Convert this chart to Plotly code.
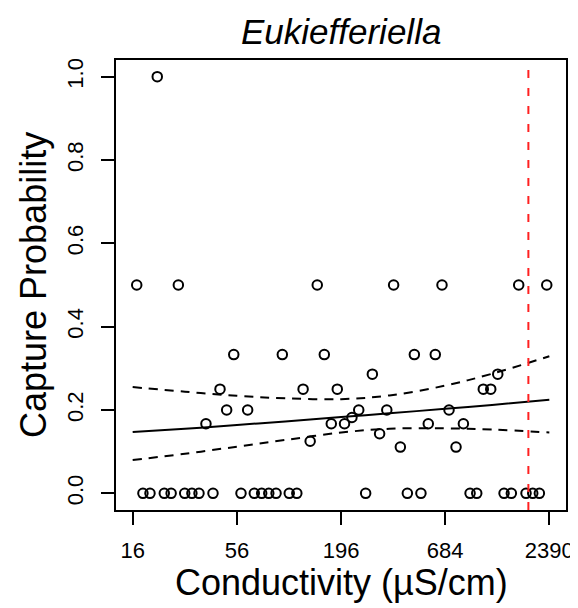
import math
import plotly.graph_objects as go

# ---- data ----
conductivity = [16.8, 18.1, 19.7, 21.5, 23.4, 25.4, 27.7, 29.9, 32.6, 35.5,
                38.6, 42.0, 45.7, 49.5, 53.9, 58.8, 63.7, 69.0, 75.4, 82.1,
                89.6, 96.6, 105, 115, 124, 135, 147, 160, 174, 187,
                204, 223, 242, 263, 285, 311, 339, 368, 399, 434,
                472, 511, 558, 607, 658, 716, 779, 851, 922, 999,
                1081, 1182, 1286, 1387, 1514, 1654, 1806, 1958, 2120, 2317]
capture_prob = [0.5, 0, 0, 1.0, 0, 0, 0.5, 0, 0, 0,
                0.167, 0, 0.25, 0.2, 0.333, 0, 0.2, 0, 0, 0,
                0, 0.333, 0, 0, 0.25, 0.125, 0.5, 0.333, 0.167, 0.25,
                0.167, 0.182, 0.2, 0, 0.286, 0.143, 0.2, 0.5, 0.111, 0,
                0.333, 0, 0.167, 0.333, 0.5, 0.2, 0.111, 0.167, 0, 0,
                0.25, 0.25, 0.286, 0, 0, 0.5, 0, 0, 0, 0.5]

curve_x = [16, 30, 56, 100, 196, 350, 684, 1200, 2390]
fit_prob = [0.147, 0.155, 0.164, 0.1725, 0.183, 0.192, 0.203, 0.212, 0.2245]
upper_ci = [0.255, 0.244, 0.234, 0.228, 0.226, 0.235, 0.2585, 0.287, 0.329]
lower_ci = [0.080, 0.095, 0.112, 0.128, 0.146, 0.155, 0.156, 0.153, 0.146]

threshold = 1858
x_ticks = [16, 56, 196, 684, 2390]
x_tick_labels = ["16", "56", "196", "684", "2390"]
y_ticks = [0.0, 0.2, 0.4, 0.6, 0.8, 1.0]
y_tick_labels = ["0.0", "0.2", "0.4", "0.6", "0.8", "1.0"]

FONT = "Liberation Sans, Arial, Helvetica, sans-serif"

lo, hi = math.log10(min(curve_x)), math.log10(max(curve_x))
span = hi - lo
x_range = [lo - 0.04 * span, hi + 0.04 * span]
y_range = [-0.04, 1.04]

fig = go.Figure()
fig.add_trace(go.Scatter(
    x=conductivity, y=capture_prob, mode="markers",
    marker=dict(symbol="circle-open", size=9.5, color="black",
                line=dict(width=2, color="black")),
    hoverinfo="x+y", showlegend=False))
fig.add_trace(go.Scatter(x=curve_x, y=fit_prob, mode="lines",
                         line=dict(color="black", width=2, shape="spline"),
                         showlegend=False))
for band in (upper_ci, lower_ci):
    fig.add_trace(go.Scatter(x=curve_x, y=band, mode="lines",
                             line=dict(color="black", width=2, dash="9px,7px",
                                       shape="spline"),
                             showlegend=False))
fig.add_trace(go.Scatter(x=[threshold, threshold], y=y_range, mode="lines",
                         line=dict(color="#ff2020", width=2, dash="8px,10px"),
                         showlegend=False))

# page body adds an 8px offset, so margins are shifted to compensate
fig.update_layout(
    width=578, height=608,
    margin=dict(l=108, r=20, t=52, b=106),
    paper_bgcolor="white", plot_bgcolor="white",
    font=dict(family=FONT, color="black"),
    showlegend=False,
    xaxis=dict(type="log", range=x_range, tickmode="array",
               tickvals=x_ticks, ticktext=x_tick_labels,
               ticks="outside", ticklen=13, tickwidth=1.6, tickcolor="black",
               showline=True, mirror=True, linewidth=1.6, linecolor="black",
               showgrid=False, zeroline=False, automargin=False,
               tickfont=dict(size=22, family=FONT),
               ticklabelstandoff=7),
    yaxis=dict(range=y_range, tickmode="array",
               tickvals=y_ticks, ticktext=y_tick_labels, tickangle=-90,
               ticks="outside", ticklen=13, tickwidth=1.6, tickcolor="black",
               showline=True, mirror=True, linewidth=1.6, linecolor="black",
               showgrid=False, zeroline=False, automargin=False,
               tickfont=dict(size=22, family=FONT),
               ticklabelstandoff=9),
    annotations=[
        dict(text="<i>Eukiefferiella</i>", xref="paper", yref="paper",
             x=0.5, y=1, yshift=29, xanchor="center", yanchor="middle",
             showarrow=False, font=dict(size=35, family=FONT)),
        dict(text="Conductivity (µS/cm)", xref="paper", yref="paper",
             x=0.5, y=0, yshift=-72, xanchor="center", yanchor="middle",
             showarrow=False, font=dict(size=36, family=FONT)),
        dict(text="Capture Probability", xref="paper", yref="paper",
             x=0, y=0.5, xshift=-83, xanchor="center", yanchor="middle",
             textangle=-90, showarrow=False, font=dict(size=36, family=FONT)),
    ],
)

fig.write_html("out.html")
